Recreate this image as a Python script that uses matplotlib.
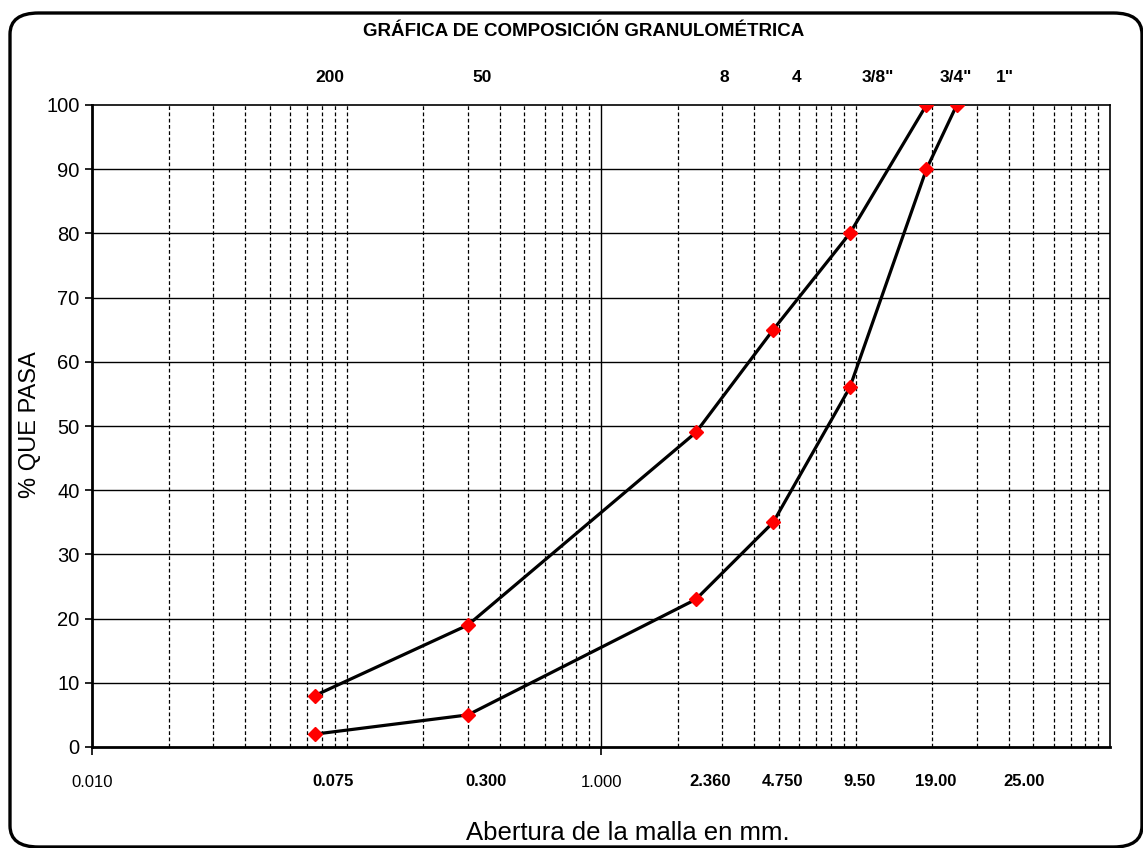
import numpy as np
import matplotlib.pyplot as plt
from matplotlib.patches import FancyBboxPatch
from matplotlib.ticker import FixedLocator, NullFormatter

plt.rcParams['font.family'] = ['Liberation Sans', 'DejaVu Sans']

# --- datos de la curva granulométrica ---
abertura_sup = [0.075, 0.300, 2.360, 4.750, 9.50, 19.00]
pasa_sup = [8, 19, 49, 65, 80, 100]
abertura_inf = [0.075, 0.300, 2.360, 4.750, 9.50, 19.00, 25.00]
pasa_inf = [2, 5, 23, 35, 56, 90, 100]

tamices_sup = ['200', '50', '8', '4', '3/8"', '3/4"', '1"']
tamices_inf = ['0.075', '0.300', '2.360', '4.750', '9.50', '19.00', '25.00']

W, H = 1143, 848
fig = plt.figure(figsize=(W / 100, H / 100), dpi=100)
ax = fig.add_axes([92 / W, 1 - 747 / H, (1110 - 92) / W, (747 - 105) / H])

# marco redondeado alrededor de la figura
marco = FancyBboxPatch((10 / W, 1 - 847 / H), (1142 - 10) / W, (847 - 13) / H,
                       boxstyle='round,pad=0,rounding_size=0.025',
                       transform=fig.transFigure, fill=False, lw=2.4,
                       edgecolor='black', clip_on=False)
fig.patches.append(marco)

ax.set_xscale('log')
ax.set_xlim(0.01, 100)
ax.set_ylim(0, 100)

# cuadrícula: rejilla menor discontinua, línea sólida en 1.0
minores = [m * 10.0 ** e for e in range(-2, 2) for m in range(2, 11)]
minores = [v for v in minores if abs(v - 1.0) > 1e-9 and v < 99]
for v in minores:
    ax.axvline(v, color='black', lw=0.9, ls=(0, (3, 2)), zorder=1)
ax.axvline(1.0, color='black', lw=1.0, zorder=1)
for y in range(10, 100, 10):
    ax.axhline(y, color='black', lw=1.0, zorder=1)

ax.plot(abertura_sup, pasa_sup, color='black', lw=2.3, zorder=3,
        marker='D', markersize=7, markerfacecolor='red', markeredgecolor='red')
ax.plot(abertura_inf, pasa_inf, color='black', lw=2.3, zorder=3,
        marker='D', markersize=7, markerfacecolor='red', markeredgecolor='red')

ax.xaxis.set_major_locator(FixedLocator([0.01, 1.0]))
ax.xaxis.set_minor_locator(FixedLocator([]))
ax.xaxis.set_minor_formatter(NullFormatter())
ax.set_xticklabels(['0.010', '1.000'])
ax.set_yticks(range(0, 101, 10))
ax.tick_params(axis='x', labelsize=12, length=6, width=1.2, pad=14, colors='black')
ax.tick_params(axis='y', labelsize=14.5, length=5, width=1.2, pad=4)

for s in ['left', 'bottom']:
    ax.spines[s].set_linewidth(2.0)
for s in ['right', 'top']:
    ax.spines[s].set_linewidth(1.2)

# etiquetas de tamices (arriba) y aberturas (abajo)
x_sup = [330, 482, 724, 797, 878, 956, 1005]
x_inf = [333, 486, 710, 783, 860, 936, 1024]
for lab, px in zip(tamices_sup, x_sup):
    fig.text(px / W, 1 - 77 / H, lab, ha='center', va='center',
             fontsize=12.5, fontweight='bold')
for lab, px in zip(tamices_inf, x_inf):
    fig.text(px / W, 1 - 781 / H, lab, ha='center', va='center',
             fontsize=12, fontweight='bold')

fig.text(584 / W, 1 - 32 / H, 'GRÁFICA DE COMPOSICIÓN GRANULOMÉTRICA',
         ha='center', va='center', fontsize=13.5, fontweight='bold')
fig.text(628 / W, 1 - 833 / H, 'Abertura de la malla en mm.',
         ha='center', va='center', fontsize=18.5)
fig.text(30 / W, 1 - 425 / H, '% QUE PASA', ha='center', va='center',
         rotation=90, fontsize=17)

fig.savefig('out.png', dpi=100)
